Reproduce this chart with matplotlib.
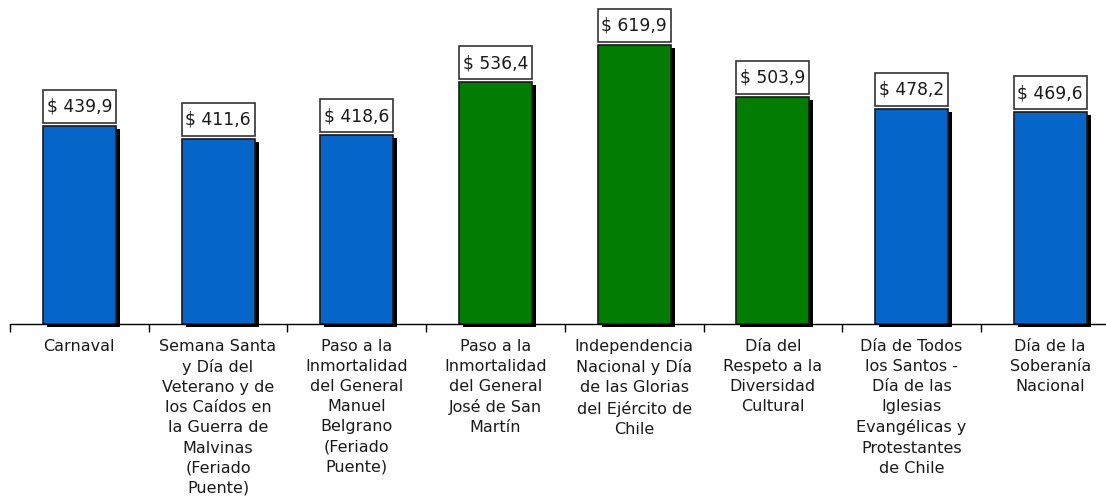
import numpy as np
import matplotlib
matplotlib.use('Agg')
from matplotlib import pyplot as plt
from matplotlib.patches import Rectangle
from matplotlib.transforms import ScaledTranslation

# data
categories = [
    'Carnaval',
    'Semana Santa\ny Día del\nVeterano y de\nlos Caídos en\nla Guerra de\nMalvinas\n(Feriado\nPuente)',
    'Paso a la\nInmortalidad\ndel General\nManuel\nBelgrano\n(Feriado\nPuente)',
    'Paso a la\nInmortalidad\ndel General\nJosé de San\nMartín',
    'Independencia\nNacional y Día\nde las Glorias\ndel Ejército de\nChile',
    'Día del\nRespeto a la\nDiversidad\nCultural',
    'Día de Todos\nlos Santos -\nDía de las\nIglesias\nEvangélicas y\nProtestantes\nde Chile',
    'Día de la\nSoberanía\nNacional',
]
values = [439.9, 411.6, 418.6, 536.4, 619.9, 503.9, 478.2, 469.6]
group = ['blue', 'blue', 'blue', 'green', 'green', 'green', 'blue', 'blue']

colors = {'blue': '#0565C9', 'green': '#027C02'}


def main():
    plt.rcParams['font.family'] = ['DejaVu Sans']
    fig = plt.figure(figsize=(11.06, 5.02), dpi=100)
    W, H = 1106., 502.
    # axes: left at 10px, bottom (axis line) at 325px from the top
    ax = fig.add_axes([10 / W, (H - 325) / H, 8 * 138.7 / W, 325 / H])
    ax.set_xlim(-0.5, 7.5)
    ax.set_ylim(0, 721.4)

    x = np.arange(len(values))
    bw = 0.527
    bar_colors = [colors[g] for g in group]

    # shadow, shifted 4px right / 3px down
    shift = ax.transData + ScaledTranslation(4 / 100., -3 / 100., fig.dpi_scale_trans)
    sh = ax.bar(x, values, width=bw, color='black', zorder=2)
    for p in sh:
        p.set_transform(shift)
        p.set_clip_on(False)

    ax.bar(x, values, width=bw, color=bar_colors, edgecolor='#1a1a1a',
           linewidth=1.2, zorder=3)

    # value boxes
    px = 721.4 / 325.  # data units per pixel
    for xi, v in zip(x, values):
        y0 = v + 3 * px
        ax.add_patch(Rectangle((xi - bw / 2, y0), bw, 33 * px, facecolor='white',
                               edgecolor='#333333', linewidth=1.2,
                               clip_on=False, zorder=4))
        txt = '$ ' + ('%.1f' % v).replace('.', ',')
        ax.text(xi, y0 + 17 * px, txt, ha='center', va='center',
                fontsize=12.3, color='#1a1a1a', zorder=5)

    for s in ['top', 'right', 'left']:
        ax.spines[s].set_visible(False)
    ax.spines['bottom'].set_color('black')
    ax.spines['bottom'].set_linewidth(1.0)
    ax.set_yticks([])

    ax.set_xticks(x)
    ax.set_xticklabels(categories, fontsize=11.5, color='#1a1a1a',
                       linespacing=1.42, ha='center', multialignment='center')
    ax.tick_params(axis='x', which='major', length=0, pad=10)
    ax.set_xticks(np.arange(-0.5, 7.6, 1.0), minor=True)
    ax.tick_params(axis='x', which='minor', length=6, width=1.0, color='black')

    plt.savefig('out.png', dpi=100)


if __name__ == "__main__":
    main()
